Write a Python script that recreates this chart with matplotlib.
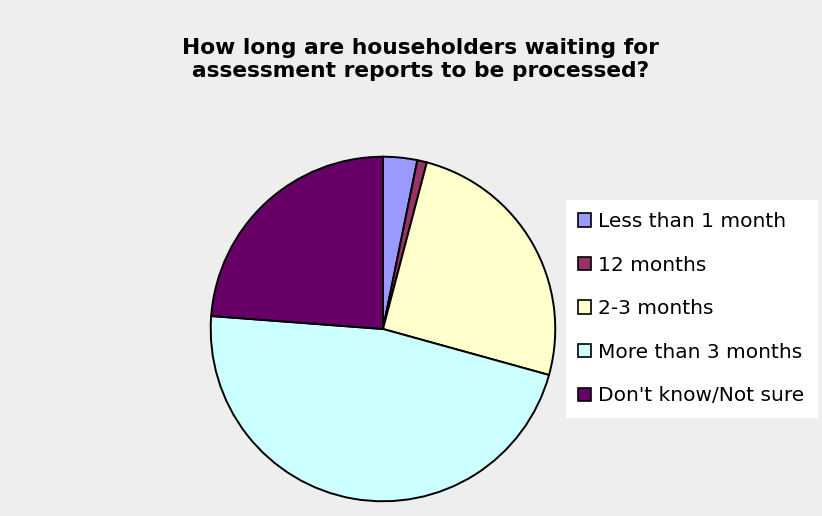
import matplotlib.pyplot as plt
from matplotlib.patches import Patch

# survey answers (percent of householders)
labels = ["Less than 1 month", "12 months", "2-3 months",
          "More than 3 months", "Don't know/Not sure"]
shares = [3.2, 0.9, 25.2, 46.9, 23.8]
colors = ["#9999FF", "#993366", "#FFFFCC", "#CCFFFF", "#660066"]

fig = plt.figure(figsize=(8.22, 5.16), dpi=100)
fig.patch.set_facecolor("#EEEEEE")

# pie sits left of centre, under the title
ax = fig.add_axes([0.2542, 0.0252, 0.4234, 0.6744])
ax.pie(shares, colors=colors, startangle=90, counterclock=False,
       radius=1.0, wedgeprops=dict(edgecolor="black", linewidth=1.4))
ax.set_xlim(-1.01, 1.01)
ax.set_ylim(-1.01, 1.01)
ax.set_aspect("equal")
ax.axis("off")

fig.text(0.512, 0.885, "How long are householders waiting for\nassessment reports to be processed?",
         ha="center", va="center", fontsize=15.7, fontweight="bold",
         family="DejaVu Sans", linespacing=1.15)

handles = [Patch(facecolor=c, edgecolor="black", linewidth=1.2) for c in colors]
leg = fig.legend(handles, labels, loc="upper left",
                 bbox_to_anchor=(566 / 822, 1 - 200 / 516),
                 fontsize=14.5, frameon=True, fancybox=False, framealpha=1,
                 handlelength=0.65, handleheight=0.65, handletextpad=0.35,
                 labelspacing=1.22, borderpad=0.6, borderaxespad=0)
leg.get_frame().set_facecolor("white")
leg.get_frame().set_edgecolor("white")

fig.savefig("out.png", dpi=100, facecolor=fig.get_facecolor())
